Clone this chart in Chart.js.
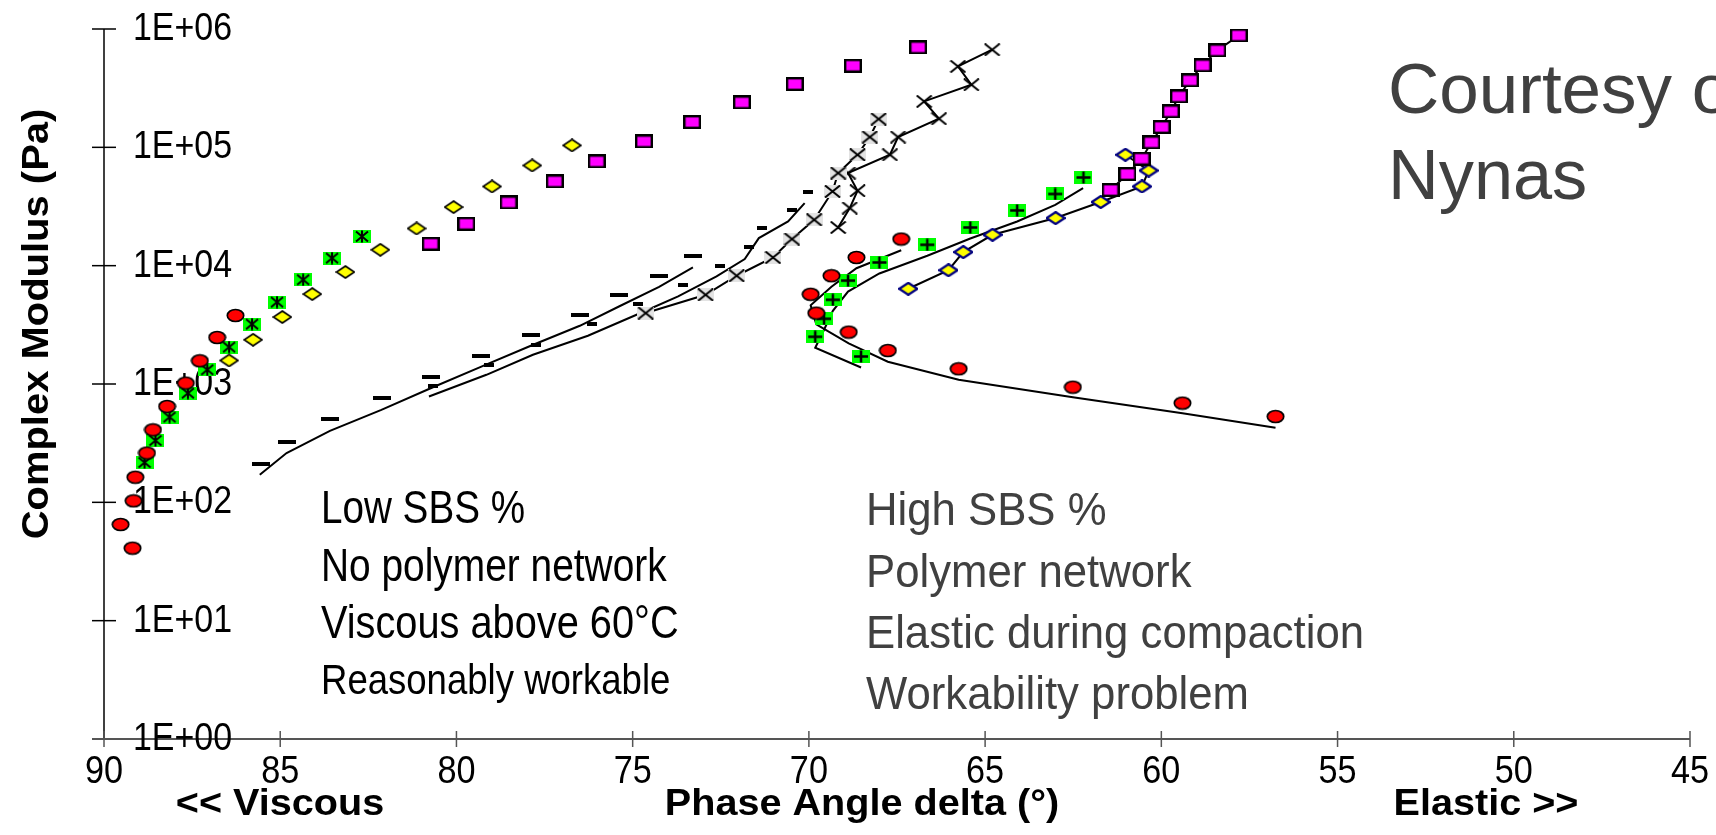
<!DOCTYPE html>
<html>
<head>
<meta charset="utf-8">
<script src="https://cdn.jsdelivr.net/npm/chart.js@4.4.1/dist/chart.umd.min.js"></script>
<style>
html,body{margin:0;padding:0;background:#fff;overflow:hidden}
</style>
</head>
<body>
<canvas id="c" width="1716" height="835"></canvas>
<script>
// [phase angle deg, complex modulus Pa]
const redLeft = [[86.27,3793],[86.79,2472],[87.28,1571],[87.68,1018],[88.21,646],[88.61,410],[88.78,261],[89.11,163],[89.16,103],[89.53,65],[89.19,41]]
const starLeft = [[82.68,17660],[83.53,11590],[84.35,7600],[85.09,4925],[85.80,3208],[86.45,2050],[87.07,1318],[87.62,837],[88.14,525],[88.54,333],[88.85,217]]
const diamondLeft = [[76.72,103800],[77.85,70300],[78.99,46700],[80.08,31270],[81.13,20620],[82.16,13630],[83.15,8830],[84.09,5750],[84.94,3680],[85.77,2365],[86.45,1580]]
const squareLeft = [[66.90,698900],[68.75,489500],[70.40,342800],[71.90,239700],[73.31,163700],[74.68,112200],[76.02,76000],[77.21,51500],[78.52,34200],[79.72,22600],[80.73,15300]]

const dashBig = [[85.55,211],[84.82,323],[83.58,503],[82.12,760],[80.71,1157],[79.31,1730],[77.89,2606],[76.50,3846],[75.39,5600],[74.25,8220],[73.29,11970]]
const dashBigLine = [[85.58,171],[84.82,261],[83.59,402],[82.13,605],[80.70,929],[79.31,1397],[77.89,2104],[76.50,3105],[75.39,4519],[74.25,6630],[73.29,9660]]
const dashSmall = [[80.66,966],[79.07,1453],[77.75,2143],[76.15,3228],[74.85,4732],[73.57,6800],[72.53,9980],[71.71,14310],[71.32,20790],[70.49,29380],[70.03,42170]]
const dashSmallLine = [[80.78,784],[79.15,1196],[77.83,1766],[76.27,2555],[74.89,3846],[73.71,5495],[72.62,8110],[71.82,11380],[71.42,17100],[70.59,23640],[70.12,33810]]

const crossGray = [[74.63,3975],[72.93,5675],[72.05,8220],[71.02,11730],[70.48,16790],[69.85,24430],[69.33,42400],[69.17,60650],[68.62,86550],[68.27,122200],[68.02,173400]]
const crossBlack = [[69.17,21030],[68.84,30690],[68.62,42980],[68.89,60650],[67.70,86550],[67.47,122200],[66.31,174500],[66.73,244300],[65.39,338300],[65.77,483000],[64.80,668300]]

const redRight = [[67.38,16790],[68.65,11730],[69.36,8220],[69.95,5730],[69.79,3975],[68.87,2747],[67.76,1919],[65.75,1344],[62.51,941],[59.40,690],[56.76,531]]
const redRightLine = [[67.38,13490],[68.65,9510],[69.36,6630],[69.95,4624],[69.79,3198],[68.87,2208],[67.76,1541],[65.75,1085],[62.51,772],[59.40,565],[56.76,427]]
const plusRight = [[62.21,55660],[63.01,40370],[64.09,29300],[65.42,21040],[66.64,15020],[68.00,10640],[68.89,7480],[69.32,5150],[69.57,3557],[69.82,2506],[68.52,1708]]
const plusRightLine = [[62.22,45290],[63.01,32590],[64.09,23640],[65.42,16980],[66.64,12130],[68.00,8590],[68.89,6040],[69.32,4155],[69.57,2872],[69.82,2023],[68.52,1378]]
const diamondRight = [[67.18,6380],[66.04,9150],[65.62,13030],[64.79,18240],[63.00,25250],[61.72,34490],[60.55,46700],[60.36,63660],[61.02,86550]]
const squareRight = [[57.80,883000],[58.41,659500],[58.83,492600],[59.19,367800],[59.50,269400],[59.73,201100],[59.99,148500],[60.28,110000],[60.56,80100],[60.96,59470],[61.44,43560]]

const xTicks = [90,85,80,75,70,65,60,55,50,45]
const yTicks = [1,10,100,1000,10000,100000,1000000]

const leftNotes = ['Low SBS %','No polymer network','Viscous above 60°C','Reasonably workable']
const rightNotes = ['High SBS %','Polymer network','Elastic during compaction','Workability problem']
const courtesy = ['Courtesy of','Nynas']

const FONT = "'Liberation Sans', Arial, sans-serif"

function mk(w,h,draw){
    let c=document.createElement('canvas')
    c.width=w; c.height=h
    draw(c.getContext('2d'),w,h)
    return c
}
const imgRed = mk(19,15,g=>{
    g.beginPath(); g.ellipse(9.5,7.5,8.2,6,0,0,Math.PI*2)
    g.fillStyle='#ff0000'; g.fill(); g.lineWidth=1.7; g.strokeStyle='#000'; g.stroke()
})
const imgStar = mk(18,13,(g,w,h)=>{
    g.fillStyle='#00ff00'; g.fillRect(0,0,w,h)
    g.strokeStyle='#000'; g.lineWidth=2; g.beginPath()
    g.moveTo(3,1.5); g.lineTo(15,11.5); g.moveTo(15,1.5); g.lineTo(3,11.5)
    g.moveTo(9,0.5); g.lineTo(9,12.5); g.stroke()
})
const imgPlus = mk(18,13,(g,w,h)=>{
    g.fillStyle='#00ff00'; g.fillRect(0,0,w,h)
    g.strokeStyle='#000'; g.lineWidth=2.5; g.beginPath()
    g.moveTo(2,6.5); g.lineTo(16,6.5); g.moveTo(9,0.5); g.lineTo(9,12.5); g.stroke()
})
function diamond(stroke,lw){
    return mk(20,14,g=>{
        g.beginPath(); g.moveTo(10,1); g.lineTo(19,7); g.lineTo(10,13); g.lineTo(1,7); g.closePath()
        g.fillStyle='#ffff00'; g.fill(); g.lineWidth=lw; g.strokeStyle=stroke; g.stroke()
    })
}
const imgDiaBlack = diamond('#000',1.7)
const imgDiaBlue = diamond('#000080',2.2)
const imgSquare = mk(18,14,g=>{
    g.fillStyle='#ff00ff'; g.fillRect(1,1,16,12)
    g.lineWidth=2.4; g.strokeStyle='#000'; g.strokeRect(1.2,1.2,15.6,11.6)
})
const imgDashBig = mk(18,4,(g,w,h)=>{ g.fillStyle='#000'; g.fillRect(0,0,w,h) })
const imgDashSmall = mk(10,4,(g,w,h)=>{ g.fillStyle='#000'; g.fillRect(0,0,w,h) })
function cross(bg){
    return mk(17,13,(g,w,h)=>{
        if(bg){ g.fillStyle=bg; g.fillRect(0,0,w,h) }
        g.strokeStyle='#000'; g.lineWidth=2; g.beginPath()
        g.moveTo(1,0.5); g.lineTo(16,12.5); g.moveTo(16,0.5); g.lineTo(1,12.5); g.stroke()
    })
}
const imgCrossGray = cross('#e3e3e3')
const imgCross = cross(null)

function pts(a){ return a.map(p=>({x:p[0],y:p[1]})) }
function markers(a,img){ return {data:pts(a),pointStyle:img,pointRadius:6,showLine:false,order:1} }
function line(a){ return {data:pts(a),pointRadius:0,showLine:true,borderColor:'#000',borderWidth:2,order:2} }
function both(a,img){ return {data:pts(a),pointStyle:img,pointRadius:6,showLine:true,borderColor:'#000',borderWidth:2,order:1} }

function text(ctx,s,x,y,font,color,sx,align,rot){
    ctx.save()
    ctx.translate(x,y)
    if(rot) ctx.rotate(rot)
    ctx.scale(sx,1)
    ctx.font=font; ctx.fillStyle=color
    ctx.textAlign=align||'left'; ctx.textBaseline='alphabetic'
    ctx.fillText(s,0,0)
    ctx.restore()
}
function expLabel(v){ return '1E+'+String(Math.round(Math.log10(v))).padStart(2,'0') }

const decor = {
    id:'decor',
    beforeDatasetsDraw(chart){
        const ctx=chart.ctx, xs=chart.scales.x, ys=chart.scales.y
        const a=chart.chartArea
        ctx.save()
        // y axis, ticks crossing the line
        ctx.strokeStyle='#000'; ctx.lineWidth=1.5
        ctx.beginPath(); ctx.moveTo(a.left,a.top); ctx.lineTo(a.left,a.bottom); ctx.stroke()
        yTicks.forEach(v=>{
            let y=ys.getPixelForValue(v)
            ctx.beginPath(); ctx.moveTo(a.left-12,y); ctx.lineTo(a.left+12,y); ctx.stroke()
        })
        // x axis
        ctx.strokeStyle='#555'; ctx.lineWidth=2
        ctx.beginPath(); ctx.moveTo(a.left-12,a.bottom); ctx.lineTo(a.right,a.bottom); ctx.stroke()
        ctx.lineWidth=1.5
        xTicks.forEach(v=>{
            let x=xs.getPixelForValue(v)
            ctx.beginPath(); ctx.moveTo(x,a.bottom-8); ctx.lineTo(x,a.bottom+8); ctx.stroke()
        })
        ctx.restore()

        // tick labels
        yTicks.forEach(v=>{
            text(ctx,expLabel(v),a.left+29,ys.getPixelForValue(v)+11,'39px '+FONT,'#000',0.87,'left')
        })
        xTicks.forEach(v=>{
            text(ctx,String(v),xs.getPixelForValue(v),783,'38px '+FONT,'#000',0.9,'center')
        })

        const bold='bold 36px '+FONT
        text(ctx,'Complex Modulus (Pa)',48,324,bold,'#000',1.11,'center',-Math.PI/2)
        text(ctx,'<< Viscous',280,815,bold,'#000',1.1,'center')
        text(ctx,'Phase Angle delta (°)',862,815,bold,'#000',1.1,'center')
        text(ctx,'Elastic >>',1486,815,bold,'#000',1.1,'center')

        const lb=[523,581,638,694]
        const lsx=[0.84,0.845,0.864,0.87]
        leftNotes.forEach((s,i)=>{
            text(ctx,s,321,lb[i],(i==3?'42px ':'46px ')+FONT,'#000',lsx[i],'left')
        })
        const rb=[525,587,648,709]
        rightNotes.forEach((s,i)=>{
            text(ctx,s,866,rb[i],'47px '+FONT,'#404040',0.93,'left')
        })
        text(ctx,courtesy[0],1388,113,'71px '+FONT,'#404040',1,'left')
        text(ctx,courtesy[1],1388,199,'71px '+FONT,'#404040',0.99,'left')
    }
}

new Chart(document.getElementById('c'),{
    type:'scatter',
    data:{datasets:[
        markers(redLeft,imgRed),
        markers(starLeft,imgStar),
        markers(diamondLeft,imgDiaBlack),
        markers(squareLeft,imgSquare),
        markers(dashBig,imgDashBig),
        line(dashBigLine),
        markers(dashSmall,imgDashSmall),
        line(dashSmallLine),
        both(crossGray,imgCrossGray),
        both(crossBlack,imgCross),
        markers(redRight,imgRed),
        line(redRightLine),
        markers(plusRight,imgPlus),
        line(plusRightLine),
        both(squareRight,imgSquare),
        both(diamondRight,imgDiaBlue)
    ]},
    options:{
        responsive:false,
        animation:false,
        events:[],
        layout:{padding:{top:29,right:26,left:0,bottom:0}},
        plugins:{legend:{display:false},tooltip:{enabled:false}},
        scales:{
            x:{
                type:'linear',min:45,max:90,reverse:true,
                grid:{display:false,drawTicks:false},
                border:{display:false},
                ticks:{display:false,stepSize:5},
                afterFit(s){ s.height=96; s.paddingLeft=0; s.paddingRight=0 }
            },
            y:{
                type:'logarithmic',min:1,max:1000000,
                grid:{display:false,drawTicks:false},
                border:{display:false},
                afterBuildTicks(s){ s.ticks=yTicks.map(v=>({value:v})) },
                ticks:{display:false},
                afterFit(s){ s.width=104; s.paddingTop=0; s.paddingBottom=0 }
            }
        }
    },
    plugins:[decor]
})
</script>
</body>
</html>
